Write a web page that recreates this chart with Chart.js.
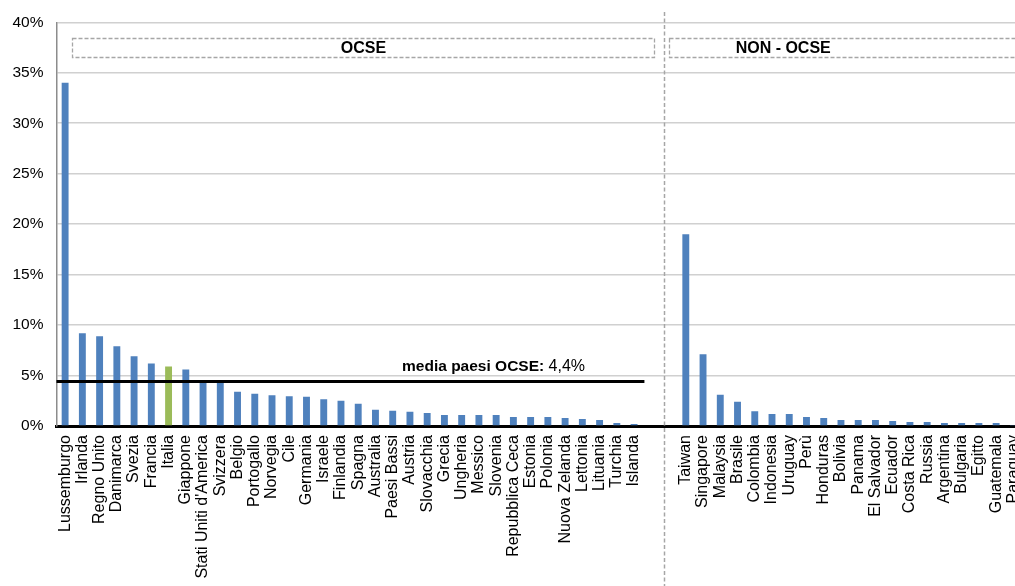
<!DOCTYPE html>
<html lang="it">
<head>
<meta charset="utf-8">
<title>Paesi OCSE e non OCSE</title>
<script src="https://cdn.jsdelivr.net/npm/chart.js@4.4.1/dist/chart.umd.min.js"></script>
<style>
  html, body { margin: 0; padding: 0; background: #ffffff; overflow: hidden; }
  #wrap { width: 1022px; height: 586px; }
</style>
</head>
<body>
<div id="wrap"><canvas id="grafico" width="1022" height="586"></canvas></div>
<script>
// Paesi OCSE (valori in %)
const paesiOcse = [
  'Lussemburgo', 'Irlanda', 'Regno Unito', 'Danimarca', 'Svezia', 'Francia', 'Italia',
  'Giappone', "Stati Uniti d'America", 'Svizzera', 'Belgio', 'Portogallo', 'Norvegia',
  'Cile', 'Germania', 'Israele', 'Finlandia', 'Spagna', 'Australia', 'Paesi Bassi',
  'Austria', 'Slovacchia', 'Grecia', 'Ungheria', 'Messico', 'Slovenia',
  'Repubblica Ceca', 'Estonia', 'Polonia', 'Nuova Zelanda', 'Lettonia', 'Lituania',
  'Turchia', 'Islanda'
];
const valoriOcse = [
  34.0, 9.2, 8.9, 7.9, 6.9, 6.2, 5.9,
  5.6, 4.5, 4.3, 3.4, 3.2, 3.05,
  2.95, 2.9, 2.65, 2.5, 2.2, 1.6, 1.5,
  1.4, 1.3, 1.1, 1.1, 1.1, 1.1,
  0.9, 0.9, 0.9, 0.8, 0.7, 0.6,
  0.3, 0.2
];

// Paesi non OCSE (valori in %)
const paesiNonOcse = [
  'Taiwan', 'Singapore', 'Malaysia', 'Brasile', 'Colombia', 'Indonesia', 'Uruguay',
  'Perù', 'Honduras', 'Bolivia', 'Panama', 'El Salvador', 'Ecuador', 'Costa Rica',
  'Russia', 'Argentina', 'Bulgaria', 'Egitto', 'Guatemala', 'Paraguay'
];
const valoriNonOcse = [
  19.0, 7.1, 3.1, 2.4, 1.45, 1.2, 1.2,
  0.9, 0.8, 0.6, 0.6, 0.6, 0.5, 0.4,
  0.4, 0.3, 0.3, 0.3, 0.3, 0.1
];

const mediaOcse = 4.4;
const etichettaMedia = ['media paesi OCSE:', '4,4%'];
const titoliGruppi = ['OCSE', 'NON - OCSE'];
const paeseEvidenziato = 'Italia';
const tickAsseY = [0, 5, 10, 15, 20, 25, 30, 35, 40];

// Due categorie vuote separano i due gruppi
const vuoti = 2;
const etichette = [...paesiOcse, ...Array(vuoti).fill(''), ...paesiNonOcse];
const valori = [...valoriOcse, ...Array(vuoti).fill(null), ...valoriNonOcse];

const FONT = "'Liberation Sans', Arial, sans-serif";
const BLU = '#4f81bd';
const VERDE = '#9bbb59';
const colori = etichette.map(e => e === paeseEvidenziato ? VERDE : BLU);

const primoNonOcse = paesiOcse.length + vuoti;
const ultimoOcse = paesiOcse.length - 1;

const annotazioni = {
  id: 'annotazioni',
  beforeDatasetsDraw(chart) {
    const { ctx, scales: { x } } = chart;
    const slot = x.getPixelForValue(1) - x.getPixelForValue(0);
    const sx = Math.round(x.getPixelForValue(ultimoOcse) + slot * 1.74) + 0.5;
    ctx.save();
    ctx.strokeStyle = '#a6a6a6';
    ctx.lineWidth = 1.5;
    ctx.setLineDash([4, 2.5]);
    ctx.beginPath();
    ctx.moveTo(sx, 12);
    ctx.lineTo(sx, chart.height);
    ctx.stroke();
    ctx.restore();
  },
  afterDatasetsDraw(chart) {
    const { ctx, chartArea, scales: { x, y } } = chart;
    const slot = x.getPixelForValue(1) - x.getPixelForValue(0);

    // linea della media OCSE
    const ym = y.getPixelForValue(mediaOcse);
    const xFine = x.getPixelForValue(ultimoOcse) + slot * 0.6;
    ctx.save();
    ctx.strokeStyle = '#000000';
    ctx.lineWidth = 3;
    ctx.beginPath();
    ctx.moveTo(chartArea.left, ym);
    ctx.lineTo(xFine, ym);
    ctx.stroke();

    // etichetta della media
    const fBold = 'bold 15.5px ' + FONT;
    const fNorm = '16px ' + FONT;
    ctx.font = fBold;
    const w1 = ctx.measureText(etichettaMedia[0]).width;
    ctx.font = fNorm;
    const spazio = ctx.measureText(' ').width;
    const w2 = ctx.measureText(etichettaMedia[1]).width;
    const cx = x.getPixelForValue(24.85);
    const x0 = cx - (w1 + spazio + w2) / 2;
    const ty = ym - 14.5;
    ctx.fillStyle = '#000000';
    ctx.textBaseline = 'middle';
    ctx.textAlign = 'left';
    ctx.font = fBold;
    ctx.fillText(etichettaMedia[0], x0, ty);
    ctx.font = fNorm;
    ctx.fillText(etichettaMedia[1], x0 + w1 + spazio, ty);

    // riquadri tratteggiati dei gruppi
    const yTop = Math.round(y.getPixelForValue(38.45)) + 0.5;
    const yBot = Math.round(y.getPixelForValue(36.6)) + 0.5;
    const riquadri = [
      [x.getPixelForValue(0) + slot * 0.4, x.getPixelForValue(ultimoOcse) + slot * 1.13, x.getPixelForValue(17.3)],
      [x.getPixelForValue(primoNonOcse) - slot * 0.95, chart.width + 20, x.getPixelForValue(primoNonOcse) + slot * 5.65]
    ];
    ctx.strokeStyle = '#a6a6a6';
    ctx.lineWidth = 1.3;
    ctx.setLineDash([4, 2]);
    ctx.font = 'bold 16px ' + FONT;
    ctx.textAlign = 'center';
    riquadri.forEach(([a, b, c], i) => {
      const xa = Math.round(a) + 0.5;
      const xb = Math.round(b) + 0.5;
      ctx.strokeRect(xa, yTop, xb - xa, yBot - yTop);
      ctx.fillText(titoliGruppi[i], c, (yTop + yBot) / 2 + 1);
    });
    ctx.restore();
  }
};

new Chart(document.getElementById('grafico'), {
  type: 'bar',
  data: {
    labels: etichette,
    datasets: [{
      data: valori,
      backgroundColor: colori,
      borderWidth: 0,
      barPercentage: 0.4,
      categoryPercentage: 1.0
    }]
  },
  options: {
    responsive: false,
    animation: false,
    devicePixelRatio: 1,
    layout: { padding: { top: 20, right: 0, bottom: 0, left: 0 } },
    plugins: { legend: { display: false }, tooltip: { enabled: false } },
    scales: {
      x: {
        grid: { display: false, drawTicks: false },
        border: { display: true, color: '#000000', width: 3 },
        ticks: {
          autoSkip: false,
          minRotation: 90,
          maxRotation: 90,
          padding: 9,
          color: '#000000',
          font: { family: FONT, size: 16 }
        },
        afterFit(scale) {
          scale.height = 160;
          scale.paddingLeft = 0;
          scale.paddingRight = 0;
        }
      },
      y: {
        min: tickAsseY[0],
        max: tickAsseY[tickAsseY.length - 1],
        afterBuildTicks(scale) {
          scale.ticks = tickAsseY.map(v => ({ value: v }));
        },
        grid: {
          drawTicks: false,
          lineWidth: 1.5,
          color: c => (c.tick && c.tick.value === 0) ? 'rgba(0,0,0,0)' : '#d0d0d0'
        },
        border: { display: true, color: '#8c8c8c', width: 1.5 },
        ticks: {
          padding: 13,
          color: '#000000',
          font: { family: FONT, size: 15.5 },
          callback: v => v + '%'
        },
        afterFit(scale) {
          scale.width = 56.5;
        }
      }
    }
  },
  plugins: [annotazioni]
});
</script>
</body>
</html>
